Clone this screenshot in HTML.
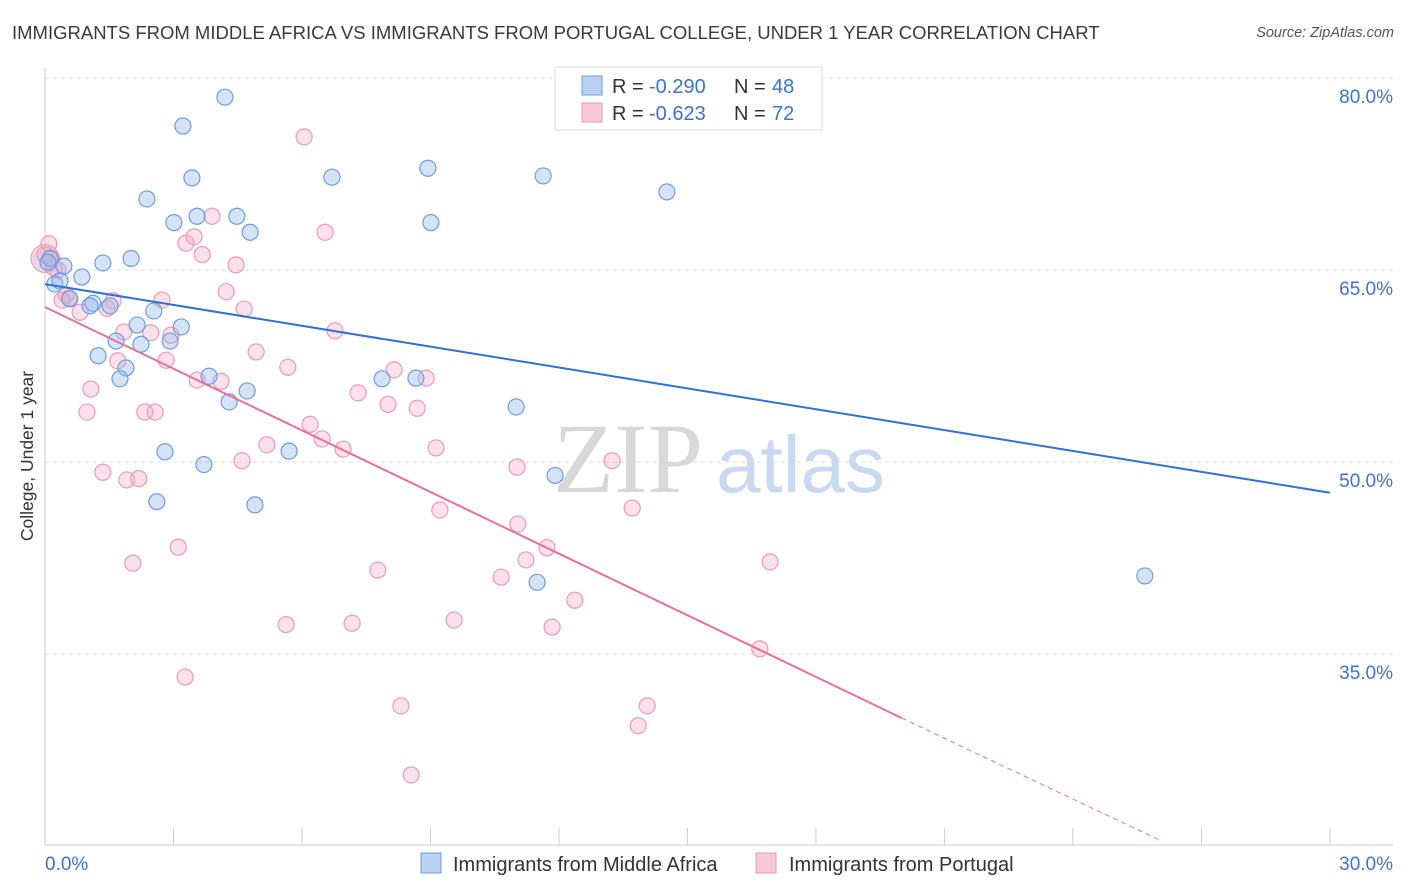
<!DOCTYPE html>
<html><head><meta charset="utf-8">
<style>
body{margin:0;background:#fff;font-family:"Liberation Sans",sans-serif;}
#wrap{position:relative;width:1406px;height:892px;overflow:hidden;}
.t{position:absolute;white-space:nowrap;}
</style></head>
<body><div id="wrap">
<div class="t" style="left:12px;top:22px;font-size:18.5px;color:#3a3a3a">IMMIGRANTS FROM MIDDLE AFRICA VS IMMIGRANTS FROM PORTUGAL COLLEGE, UNDER 1 YEAR CORRELATION CHART</div>
<div class="t" style="right:12px;top:25px;font-size:14.5px;color:#555;font-style:italic">Source: ZipAtlas.com</div>
<svg id="svg" width="1406" height="892" style="position:absolute;left:0;top:0"></svg>
</div>
<script>
const NS="http://www.w3.org/2000/svg";
const svg=document.getElementById('svg');
const yTicks=[80,65,50,35];
const xTickLabels=["0.0%","30.0%"];
const blueX=[4.20,3.22,3.43,2.38,3.01,3.55,4.48,4.79,6.70,8.94,9.01,11.63,14.52,2.01,1.35,0.44,0.86,0.23,0.58,1.12,1.52,2.54,3.18,2.15,1.66,2.24,2.92,1.24,1.89,1.75,3.83,4.72,4.30,7.87,8.66,11.0,2.80,3.71,5.70,11.91,2.61,4.90,11.49,25.68,0.12,0.35,1.05,0.07];
const blueY=[78.5,76.25,72.2,70.55,68.7,69.2,69.2,67.95,72.25,72.95,68.7,72.35,71.1,65.9,65.55,65.3,64.45,63.9,62.75,62.4,62.2,61.8,60.55,60.7,59.45,59.2,59.45,58.3,57.35,56.5,56.7,55.55,54.7,56.5,56.55,54.3,50.8,49.8,50.85,48.95,46.9,46.65,40.6,41.1,65.9,64.15,62.2,65.6];
const pinkX=[0.09,0.16,0.30,6.05,3.90,3.29,3.48,3.67,6.54,4.46,4.23,4.65,1.59,0.56,0.82,1.45,2.73,1.84,2.47,2.94,2.83,1.70,6.77,4.93,5.67,3.55,4.11,1.07,0.98,2.33,2.57,7.31,8.01,8.15,8.90,8.69,6.19,6.47,6.96,5.18,4.60,9.13,11.02,13.24,1.35,1.91,2.19,9.22,13.71,11.04,11.72,11.23,3.11,2.05,7.77,10.65,16.93,12.37,5.63,7.17,9.55,11.84,16.69,3.27,8.31,14.06,13.85,8.55,0.49,0.21,0.0,0.40];
const pinkY=[67.05,65.9,65.0,75.4,69.2,67.1,67.6,66.2,67.95,65.4,63.3,61.95,62.6,62.8,61.7,62.0,62.65,60.15,60.1,59.9,57.95,57.9,60.25,58.6,57.4,56.4,56.3,55.7,53.9,53.9,53.9,55.4,54.5,57.2,56.55,54.2,52.95,51.8,51.0,51.35,50.1,51.1,49.6,50.1,49.2,48.6,48.7,46.25,46.4,45.15,43.3,42.35,43.35,42.1,41.55,41.0,42.2,39.2,37.3,37.4,37.65,37.1,35.4,33.2,30.95,30.95,29.4,25.55,63.05,65.15,66.2,62.65];
const blueTrend=[0,63.9,30,47.6];
const pinkTrend=[0,62.1,20.0,30.0,26.0,20.5];
const X=v=>45+v*42.83, Y=v=>78+(80-v)*12.8;
function el(t,a,name,inter){const e=document.createElementNS(NS,t);for(const k in a)e.setAttribute(k,a[k]);


svg.appendChild(e);return e;}
yTicks.forEach(v=>{el('line',{x1:45,x2:1393,y1:Y(v),y2:Y(v),stroke:'#ddd','stroke-dasharray':'4,4'},'grid-line');
const t=el('text',{x:1393,y:Y(v)+25,'text-anchor':'end','font-size':19,fill:'#3b73d1','font-family':'Liberation Sans'},'y-tick-label');t.textContent=v.toFixed(1)+'%';});
el('line',{x1:45,x2:45,y1:68,y2:845,stroke:'#ccc'},'y-axis');
el('line',{x1:45,x2:1393,y1:845,y2:845,stroke:'#ccc'},'x-axis');
for(let i=0;i<=10;i++){el('line',{x1:X(i*3),x2:X(i*3),y1:828,y2:845,stroke:'#ccc'},'x-tick');}
let t=el('text',{x:45,y:870,'font-size':19,fill:'#3b73d1','font-family':'Liberation Sans'},'x-tick-label');t.textContent=xTickLabels[0];
t=el('text',{x:1393,y:870,'text-anchor':'end','font-size':19,fill:'#3b73d1','font-family':'Liberation Sans'},'x-tick-label');t.textContent=xTickLabels[1];
t=el('text',{x:33,y:456,'text-anchor':'middle','font-size':17.5,fill:'#333',transform:'rotate(-90 33 456)','font-family':'Liberation Sans'},'y-axis-title');t.textContent='College, Under 1 year';
t=el('text',{x:553,y:492,'font-size':100,fill:'#d8d8d8','font-family':'Liberation Serif'},'watermark');t.textContent='ZIP';
t=el('text',{x:716,y:492,'font-size':80,fill:'#c9d9f0','font-family':'Liberation Sans'},'watermark');t.textContent='atlas';
el('circle',{cx:X(0),cy:Y(65.9),r:14,fill:'rgba(220,170,200,0.5)',stroke:'#d9a0bf'},'cluster-point');
pinkX.forEach((x,i)=>el('circle',{cx:X(x),cy:Y(pinkY[i]),r:8,fill:'rgba(245,170,195,0.35)',stroke:'#eb9ab5','stroke-width':1.2},'portugal-point',true));
blueX.forEach((x,i)=>el('circle',{cx:X(x),cy:Y(blueY[i]),r:8,fill:'rgba(150,185,235,0.4)',stroke:'#6d9de0','stroke-width':1.2},'middle-africa-point',true));
el('line',{x1:X(blueTrend[0]),y1:Y(blueTrend[1]),x2:X(blueTrend[2]),y2:Y(blueTrend[3]),stroke:'#2f6fd6','stroke-width':2},'middle-africa-trend-line');
el('line',{x1:X(pinkTrend[0]),y1:Y(pinkTrend[1]),x2:X(pinkTrend[2]),y2:Y(pinkTrend[3]),stroke:'#e8709a','stroke-width':2},'portugal-trend-line');
el('line',{x1:X(pinkTrend[2]),y1:Y(pinkTrend[3]),x2:X(pinkTrend[4]),y2:Y(pinkTrend[5]),stroke:'#e8709a','stroke-width':1,'stroke-dasharray':'5,4'},'portugal-trend-extension');
el('rect',{x:555,y:67,width:267,height:63,fill:'#fff',stroke:'#ddd'},'legend-box');
el('rect',{x:582,y:76,width:20,height:19,fill:'#b9d1f3',stroke:'#6d9de0'},'legend-swatch-blue');
el('rect',{x:582,y:103,width:20,height:19,fill:'#f8c8d7',stroke:'#eb9ab5'},'legend-swatch-pink');
[["-0.290","48",93],["-0.623","72",120]].forEach(r=>{
 let a=el('text',{x:612,y:r[2],'font-size':20,fill:'#333','font-family':'Liberation Sans'},'legend-r-label');a.textContent='R = ';
 a=el('text',{x:649,y:r[2],'font-size':20,fill:'#3b73d1','font-family':'Liberation Sans'},'legend-r-value');a.textContent=r[0];
 a=el('text',{x:734,y:r[2],'font-size':20,fill:'#333','font-family':'Liberation Sans'},'legend-n-label');a.textContent='N = ';
 a=el('text',{x:772,y:r[2],'font-size':20,fill:'#3b73d1','font-family':'Liberation Sans'},'legend-n-value');a.textContent=r[1];
});
el('rect',{x:421,y:853,width:20,height:20,fill:'#b9d1f3',stroke:'#6d9de0'},'bottom-legend-swatch-blue',true);
t=el('text',{x:453,y:871,'font-size':20,fill:'#333','font-family':'Liberation Sans'},'bottom-legend-label-blue',true);t.textContent='Immigrants from Middle Africa';
el('rect',{x:756,y:853,width:20,height:20,fill:'#f8c8d7',stroke:'#eb9ab5'},'bottom-legend-swatch-pink',true);
t=el('text',{x:789,y:871,'font-size':20,fill:'#333','font-family':'Liberation Sans'},'bottom-legend-label-pink',true);t.textContent='Immigrants from Portugal';
</script>
</body></html>
